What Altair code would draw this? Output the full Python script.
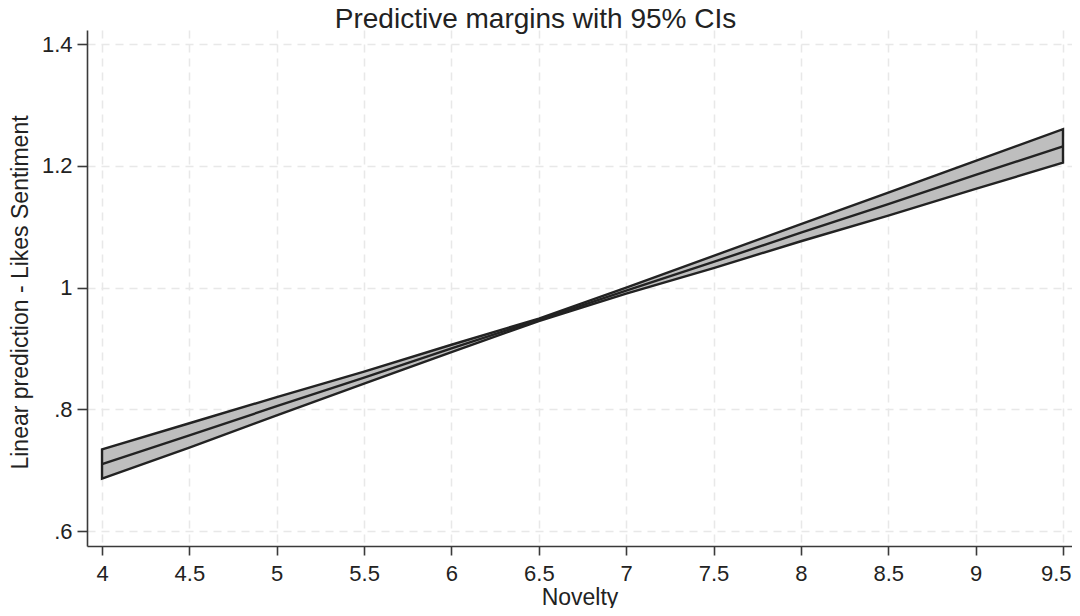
import altair as alt
import pandas as pd

# Data
novelty = [4.0, 4.5, 5.0, 5.5, 6.0, 6.5, 7.0, 7.5, 8.0, 8.5, 9.0, 9.5]
margin = [0.710, 0.757, 0.805, 0.852, 0.900, 0.947, 0.995, 1.042, 1.090, 1.137, 1.185, 1.232]
ci_lower = [0.686, 0.737, 0.790, 0.842, 0.894, 0.945, 0.990, 1.032, 1.076, 1.118, 1.162, 1.205]
ci_upper = [0.734, 0.777, 0.820, 0.862, 0.906, 0.949, 1.000, 1.052, 1.104, 1.156, 1.208, 1.260]

x_ticks = [4, 4.5, 5, 5.5, 6, 6.5, 7, 7.5, 8, 8.5, 9, 9.5]
y_ticks = [0.6, 0.8, 1.0, 1.2, 1.4]

df = pd.DataFrame({"Novelty": novelty, "margin": margin, "lo": ci_lower, "hi": ci_upper})

FONT = "Liberation Sans"
INK = "#222222"

xscale = alt.Scale(domain=[3.914, 9.5515], nice=False, zero=False)
yscale = alt.Scale(domain=[0.5754, 1.423], nice=False, zero=False)

xaxis = alt.Axis(
    values=x_ticks, format="~g", title="Novelty",
    titleY=58, titleBaseline="alphabetic",
    labelPadding=8, tickSize=9,
    labelFlush=10, labelFlushOffset=8,
)
yaxis = alt.Axis(
    values=y_ticks, title="Linear prediction - Likes Sentiment",
    labelExpr="datum.value == 1 ? '1' : (datum.value < 1 ? replace(format(datum.value, '.1f'), '0.', '.') : format(datum.value, '.1f'))",
    titleAngle=270, titleX=-60, titleY=262, titleBaseline="alphabetic", titleAlign="center",
    labelPadding=5, tickSize=10,
)

band = alt.Chart(df).mark_area(
    fill="#bebebe", stroke=INK, strokeWidth=2.4, strokeJoin="miter", opacity=1, fillOpacity=1
).encode(
    x=alt.X("Novelty:Q", scale=xscale, axis=xaxis),
    y=alt.Y("lo:Q", scale=yscale, axis=yaxis),
    y2="hi:Q",
)

line = alt.Chart(df).mark_line(color=INK, strokeWidth=2.4).encode(
    x=alt.X("Novelty:Q", scale=xscale),
    y=alt.Y("margin:Q", scale=yscale),
)

chart = alt.layer(band, line).properties(
    width=985,
    height=516,
    background="white",
    autosize=alt.AutoSizeParams(type="none"),
    padding={"left": 79, "top": 22, "right": 0, "bottom": 62},
    title=alt.TitleParams(
        "Predictive margins with 95% CIs",
        font=FONT, fontSize=28, fontWeight="normal", color=INK,
        anchor="middle", frame="group", baseline="alphabetic",
        offset=0, dx=-44, dy=26,
    ),
).configure_view(stroke=None).configure_axis(
    labelFont=FONT, titleFont=FONT,
    labelFontSize=22, titleFontSize=23,
    labelColor=INK, titleColor=INK,
    titleFontWeight="normal",
    domainColor="#3a3a3a", domainWidth=1.6,
    tickColor="#3a3a3a", tickWidth=1.6,
    gridColor="#e8e8e8", gridWidth=1.5, gridDash=[8, 6],
)

chart.save("out.html", embed_options={"renderer": "svg", "actions": False})
